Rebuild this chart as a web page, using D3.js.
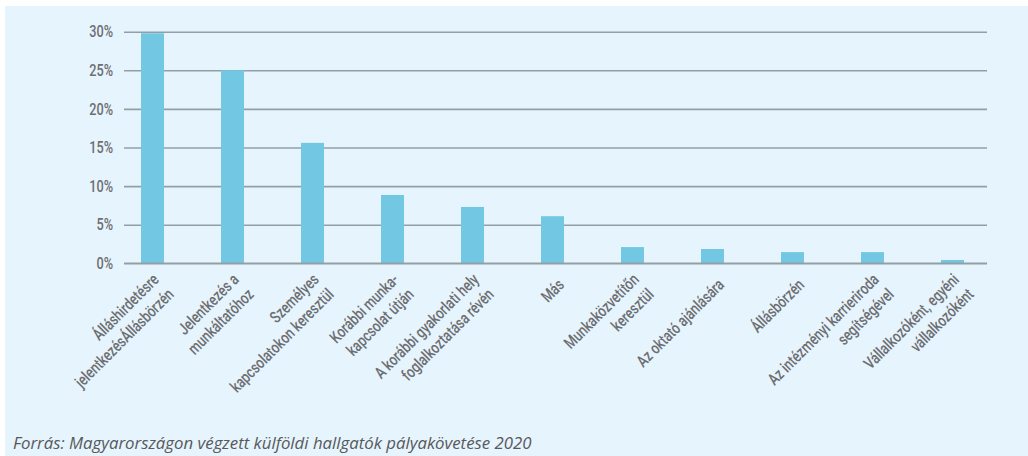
<!DOCTYPE html>
<html>
<head>
<meta charset="utf-8">
<script src="https://cdn.jsdelivr.net/npm/d3@7/dist/d3.min.js"></script>
<style>
  html, body { margin: 0; padding: 0; background: #ffffff; }
  svg { display: block; }
  .cond { font-family: "Roboto", "Liberation Sans", sans-serif; font-weight: 500; }
</style>
</head>
<body>
<svg id="chart" width="1028" height="456"></svg>
<script>
// ---- data ----
const categories = [
  ["Álláshirdetésre", "jelentkezésÁllásbörzén"],
  ["Jelentkezés a", "munkáltatóhoz"],
  ["Személyes", "kapcsolatokon keresztül"],
  ["Korábbi munka-", "kapcsolat útján"],
  ["A korábbi gyakorlati hely", "foglalkoztatása révén"],
  ["Más"],
  ["Munkaközvetítőn", "keresztül"],
  ["Az oktató ajánlására"],
  ["Állásbörzén"],
  ["Az intézményi karrieriroda", "segítségével"],
  ["Vállalkozóként, egyéni", "vállalkozóként"]
];
const values = [29.8, 25.0, 15.6, 8.85, 7.3, 6.1, 2.1, 1.85, 1.45, 1.45, 0.43];
const yTicks = [0, 5, 10, 15, 20, 25, 30];
const sourceText = "Forrás: Magyarországon végzett külföldi hallgatók pályakövetése 2020";

// ---- layout ----
const svg = d3.select("#chart");
const W = 1028, H = 456;
const keys = categories.map(c => c.join(" "));
const SX = 0.77; // horizontal condensing of label glyphs

svg.append("rect").attr("x", 5).attr("y", 6).attr("width", W - 5).attr("height", H - 6)
  .attr("fill", "#e6f4fd");

const x = d3.scaleBand().domain(keys).range([112.5, 992.5])
  .paddingInner(0.7125).paddingOuter(0.35625);
const y = d3.scaleLinear().domain([0, 30]).range([263.3, 31.7]);

const gridLeft = 124, gridRight = 987;

const yAxis = d3.axisLeft(y).tickValues(yTicks).tickFormat(d => d + "%")
  .tickSize(-(gridRight - gridLeft)).tickPadding(11);

const gy = svg.append("g").attr("transform", `translate(${gridLeft},0)`).call(yAxis);
gy.select(".domain").remove();
gy.selectAll(".tick line").attr("stroke", "#939fa8").attr("stroke-width", 1.6);
gy.selectAll(".tick text").attr("class", "cond").attr("fill", "#6d6e71")
  .attr("x", -11 / SX).attr("transform", `scale(${SX},1)`)
  .style("font-size", "16.5px");

// bars
svg.append("g").selectAll("rect").data(values).join("rect")
  .attr("x", (d, i) => x(keys[i]))
  .attr("width", x.bandwidth())
  .attr("y", d => y(d))
  .attr("height", d => y(0) - y(d))
  .attr("fill", "#72c7e2");

// redraw baseline over bars
svg.append("line").attr("x1", gridLeft).attr("x2", gridRight)
  .attr("y1", y(0)).attr("y2", y(0)).attr("stroke", "#939fa8").attr("stroke-width", 1.6);

// x labels
const lab = svg.append("g").selectAll("g").data(categories).join("g")
  .attr("transform", (d, i) => `translate(${x(keys[i]) + x.bandwidth() / 2},${y(0)}) rotate(-45)`);
lab.each(function(lines) {
  const n = lines.length;
  const g = d3.select(this);
  lines.forEach((t, i) => {
    const base = 25 + (i - (n - 1) / 2) * 21 + (n > 1 ? 3 : 0);
    g.append("text").attr("class", "cond")
      .attr("transform", `scale(${SX},1)`)
      .attr("x", -7 / SX).attr("y", base)
      .attr("text-anchor", "end")
      .attr("fill", "#6d6e71")
      .style("font-size", "16.5px")
      .text(t);
  });
});

// source
svg.append("text").attr("x", 13).attr("y", 449)
  .attr("fill", "#58595b")
  .style("font-family", "'Open Sans', 'Noto Sans', sans-serif")
  .style("font-style", "italic")
  .style("font-size", "16.8px")
  .text(sourceText);
</script>
</body>
</html>
